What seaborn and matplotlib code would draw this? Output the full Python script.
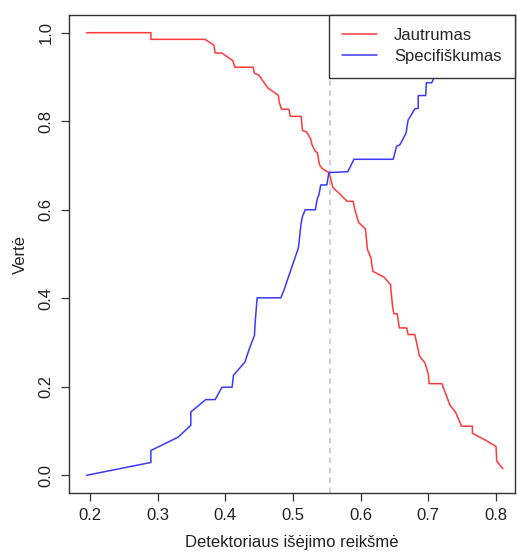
import matplotlib
matplotlib.use("Agg")
import matplotlib.pyplot as plt
from matplotlib.lines import Line2D
import seaborn as sns

# Sensitivity curve (Jautrumas) vs detector output threshold
sens_x = [0.195, 0.290, 0.290, 0.370, 0.383, 0.385, 0.395, 0.411, 0.414, 0.441,
          0.443, 0.449, 0.463, 0.478, 0.480, 0.483, 0.494, 0.496, 0.512, 0.514,
          0.520, 0.526, 0.528, 0.533, 0.536, 0.539, 0.543, 0.553, 0.556, 0.559,
          0.569, 0.580, 0.589, 0.591, 0.597, 0.607, 0.610, 0.615, 0.618, 0.635,
          0.644, 0.647, 0.649, 0.654, 0.657, 0.668, 0.670, 0.680, 0.687, 0.695,
          0.700, 0.701, 0.720, 0.732, 0.740, 0.749, 0.765, 0.765, 0.785, 0.800,
          0.801, 0.810]
sens_y = [1.000, 1.000, 0.985, 0.985, 0.972, 0.954, 0.954, 0.937, 0.922, 0.922,
          0.908, 0.905, 0.875, 0.859, 0.841, 0.827, 0.827, 0.811, 0.811, 0.779,
          0.776, 0.760, 0.747, 0.732, 0.729, 0.702, 0.693, 0.684, 0.668, 0.650,
          0.636, 0.619, 0.619, 0.602, 0.571, 0.557, 0.510, 0.492, 0.461, 0.447,
          0.431, 0.382, 0.365, 0.365, 0.333, 0.333, 0.318, 0.318, 0.269, 0.254,
          0.228, 0.207, 0.207, 0.158, 0.143, 0.111, 0.111, 0.095, 0.079, 0.065,
          0.032, 0.015]

# Specificity curve (Specifiškumas)
spec_x = [0.195, 0.290, 0.290, 0.330, 0.349, 0.349, 0.371, 0.385, 0.395, 0.410,
          0.412, 0.429, 0.435, 0.443, 0.444, 0.447, 0.482, 0.487, 0.495, 0.508,
          0.512, 0.514, 0.518, 0.533, 0.536, 0.538, 0.541, 0.550, 0.553, 0.581,
          0.590, 0.648, 0.653, 0.658, 0.667, 0.670, 0.680, 0.685, 0.685, 0.696,
          0.697, 0.705, 0.708, 0.730, 0.760, 0.790, 0.810]
spec_y = [0.000, 0.029, 0.056, 0.086, 0.113, 0.143, 0.171, 0.171, 0.199, 0.199,
          0.226, 0.256, 0.284, 0.316, 0.344, 0.401, 0.401, 0.420, 0.456, 0.514,
          0.570, 0.585, 0.600, 0.600, 0.626, 0.632, 0.656, 0.656, 0.684, 0.686,
          0.714, 0.714, 0.743, 0.747, 0.773, 0.802, 0.828, 0.829, 0.858, 0.858,
          0.887, 0.887, 0.897, 0.930, 0.960, 0.985, 1.000]

# Threshold where both curves cross
cross_x = 0.554

labels = ["Jautrumas", "Specifiškumas"]
colors = ["#ff3a3a", "#3a3aff"]
x_ticks = [0.2, 0.3, 0.4, 0.5, 0.6, 0.7, 0.8]
y_ticks = [0.0, 0.2, 0.4, 0.6, 0.8, 1.0]

sns.set_theme(style="white")
plt.rcParams["font.family"] = ["Liberation Sans", "DejaVu Sans"]
plt.rcParams["font.size"] = 12

fig = plt.figure(figsize=(5.17, 5.52), dpi=100)
ax = fig.add_axes([69 / 517, 59 / 552, 446 / 517, 478 / 552])

sns.lineplot(x=sens_x, y=sens_y, sort=False, estimator=None, color=colors[0],
             lw=1.1, ax=ax)
sns.lineplot(x=spec_x, y=spec_y, sort=False, estimator=None, color=colors[1],
             lw=1.1, ax=ax)
ax.axvline(cross_x, color="#c8c8c8", lw=1.3, linestyle=(0, (3, 2.5)), zorder=1)

ax.set_xlim(0.169, 0.828)
ax.set_ylim(-0.04, 1.04)
ax.set_xticks(x_ticks)
ax.set_yticks(y_ticks)
ax.set_xticklabels([f"{v:.1f}" for v in x_ticks])
ax.set_yticklabels([f"{v:.1f}" for v in y_ticks], rotation=90, va="center")
ax.tick_params(axis="both", direction="out", length=6, width=0.9,
               color="#333333", labelsize=12, pad=5, labelcolor="#222222",
               bottom=True, left=True)
for s in ax.spines.values():
    s.set_color("#333333")
    s.set_linewidth(1.0)

ax.set_xlabel("Detektoriaus išėjimo reikšmė", fontsize=12, color="#222222",
              labelpad=8.5)
ax.set_ylabel("Vertė", fontsize=12, color="#222222", labelpad=8)

handles = [Line2D([], [], color=c, lw=1.1) for c in colors]
leg = ax.legend(handles, labels, loc="upper right", borderaxespad=0,
                frameon=True, fancybox=False, framealpha=1, facecolor="white",
                edgecolor="#333333", fontsize=12, handlelength=2.1,
                handletextpad=1.0, borderpad=0.8, labelspacing=0.35)
leg.get_frame().set_linewidth(1.0)
leg.set_zorder(5)

fig.savefig("out.png", dpi=100)
